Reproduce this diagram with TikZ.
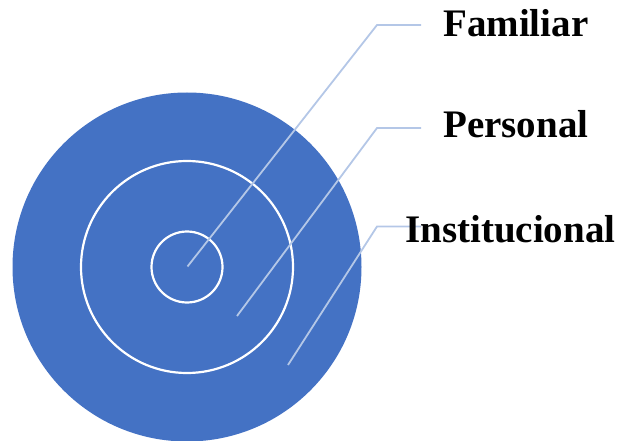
\documentclass[tikz,border=0pt]{standalone}
\usepackage{fontspec}
\setmainfont{Liberation Serif}
\begin{document}
\begin{tikzpicture}[x=1pt,y=-1pt,
  ring/.style={draw=white,line width=2.2pt},
  leader/.style={draw=leadc,line width=1.8pt},
  lbl/.style={anchor=base west,inner sep=0pt,font=\fontsize{39}{41}\selectfont\bfseries,text=black}]
\definecolor{ringblue}{RGB}{68,114,196}
\definecolor{leadc}{RGB}{180,199,231}
\useasboundingbox (0,0) rectangle (626,441);
\begin{scope}
\clip (0,0) rectangle (626,441);
\fill[ringblue] (187,267) circle (174.5);
\end{scope}
\draw[ring] (187,267) circle (106);
\draw[ring] (187,267) circle (35.5);
% leader lines
\coordinate (f0) at (187.5,266.5);
\coordinate (f1) at (377,25);
\coordinate (f2) at (421,25);
\coordinate (p0) at (237,316);
\coordinate (p1) at (377,128);
\coordinate (p2) at (421,128);
\coordinate (i0) at (288,365);
\coordinate (i1) at (377,226.5);
\coordinate (i2) at (421,226.5);
\draw[leader] (f0) -- (f1) -- (f2);
\draw[leader] (p0) -- (p1) -- (p2);
\draw[leader] (i0) -- (i1) -- (i2);
\node[lbl] (fam) at (443,37) {Familiar};
\node[lbl] (per) at (443,138) {Personal};
\node[lbl] (ins) at (405,242) {Institucional};
\end{tikzpicture}
\end{document}
